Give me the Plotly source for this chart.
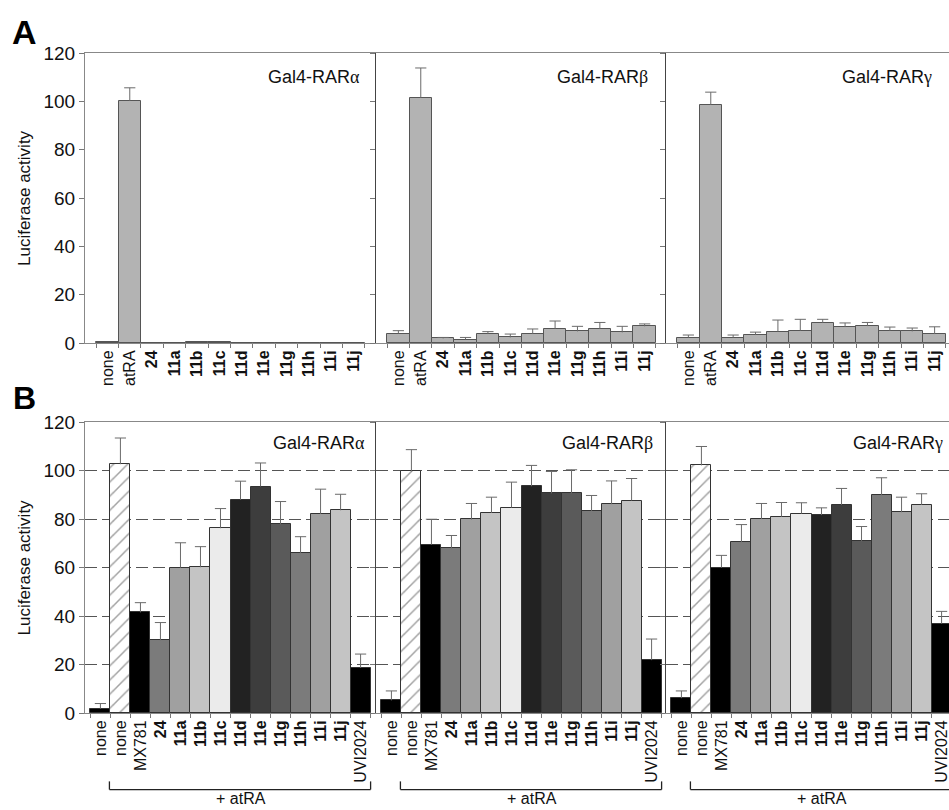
import plotly.graph_objects as go

# ---------------- data ----------------
a_labels = ["none", "atRA", "24", "11a", "11b", "11c", "11d", "11e", "11g", "11h", "11i", "11j"]
a_alpha = [0.3, 100.2, 0.2, 0.1, 0.3, 0.4, 0.2, 0.2, 0.2, 0.2, 0.2, 0.2]
a_alpha_err = [0, 5.4, 0, 0, 0, 0, 0, 0, 0, 0, 0, 0]
a_beta = [3.9, 101.4, 1.9, 1.4, 3.7, 2.3, 3.7, 5.9, 4.8, 5.8, 4.4, 6.9]
a_beta_err = [1.2, 12.4, 0.4, 0.9, 1.0, 1.4, 2.1, 3.2, 2.1, 2.7, 2.5, 1.0]
a_gamma = [2.2, 98.5, 2.2, 3.3, 4.7, 5.1, 8.3, 6.6, 7.0, 5.0, 4.8, 3.7]
a_gamma_err = [1.1, 5.3, 1.1, 1.2, 4.8, 4.7, 1.5, 1.7, 1.5, 1.6, 1.4, 3.0]

b_labels = ["none", "none", "MX781", "24", "11a", "11b", "11c", "11d", "11e",
            "11g", "11h", "11i", "11j", "UVI2024"]
b_alpha = [1.8, 102.6, 41.5, 30.0, 59.9, 60.1, 76.2, 87.9, 93.4, 77.8, 65.9, 82.1, 83.6, 18.6]
b_alpha_err = [2.1, 10.8, 4.0, 7.3, 10.3, 8.5, 8.1, 7.7, 9.7, 9.4, 6.8, 10.2, 6.6, 5.7]
b_beta = [5.2, 99.6, 69.4, 67.9, 79.8, 82.5, 84.7, 93.5, 90.6, 90.6, 83.3, 86.1, 87.6, 21.8]
b_beta_err = [3.9, 9.0, 10.5, 5.3, 6.6, 6.5, 10.5, 8.6, 9.0, 9.7, 6.4, 9.6, 9.1, 8.7]
b_gamma = [6.1, 102.1, 59.9, 70.5, 80.0, 80.9, 82.2, 81.6, 85.8, 70.8, 89.8, 82.8, 85.8, 36.8]
b_gamma_err = [3.0, 7.8, 5.1, 7.2, 6.4, 5.9, 4.5, 3.0, 6.8, 6.1, 7.2, 6.2, 4.6, 5.1]

b_atra_first = 1      # first category treated with atRA
b_atra_last = 13      # last category treated with atRA
receptors = ["α", "β", "γ"]
y_ticks = [0, 20, 40, 60, 80, 100, 120]

# ---------------- style ----------------
FONT = "Arial, Liberation Sans, sans-serif"
W, H = 949, 810
ML, MT, MB = 85, 53, 97
col_edges = [85, 376, 666, 949]
row_a = (53, 343)
row_b = (422, 713)
A_FILL = "#b3b3b3"
A_LINE = "#555555"
B_LINE = "#333333"
B_FILLS = ["#000000", "#ffffff", "#000000", "#7b7b7b", "#a0a0a0", "#c4c4c4", "#ebebeb",
           "#222222", "#3d3d3d", "#5a5a5a", "#7b7b7b", "#a0a0a0", "#c4c4c4", "#000000"]
B_PATTERNS = ["", "/", "", "", "", "", "", "", "", "", "", "", "", ""]
ERR_COL = "#6a6a6a"
PLAIN = {"none", "atRA", "MX781", "UVI2024"}

PW = W - ML
PH = H - MT - MB


def px_x(p):
    return (p - ML) / PW


def px_y(p):
    return (H - MB - p) / PH


def fmt(lbl):
    return lbl if lbl in PLAIN else f"<b>{lbl}</b>"


fig = go.Figure()

rows = [
    dict(labels=a_labels, series=[(a_alpha, a_alpha_err), (a_beta, a_beta_err), (a_gamma, a_gamma_err)],
         ypx=row_a, pad=1.0, fills=[A_FILL] * len(a_labels), pats=None, line=A_LINE, grid=False,
         title_pos=[(362, 77), (650, 77), (934, 77)]),
    dict(labels=b_labels, series=[(b_alpha, b_alpha_err), (b_beta, b_beta_err), (b_gamma, b_gamma_err)],
         ypx=row_b, pad=0.77, fills=B_FILLS, pats=B_PATTERNS, line=B_LINE, grid=True,
         title_pos=[(367, 443), (655, 443), (945, 443)]),
]

layout_axes = {}
annotations = []
shapes = []
ax_i = 0
for r, row in enumerate(rows):
    labels = row["labels"]
    n = len(labels)
    cats = [str(i) for i in range(n)]
    first_w = col_edges[1] - col_edges[0]
    cw = first_w / (n - 1 + 2 * row["pad"])
    for c in range(3):
        ax_i += 1
        xname = "x" if ax_i == 1 else f"x{ax_i}"
        yname = "y" if ax_i == 1 else f"y{ax_i}"
        vals, errs = row["series"][c]
        fig.add_trace(go.Bar(
            x=cats, y=vals, xaxis=xname, yaxis=yname,
            marker=dict(color=row["fills"], line=dict(color=row["line"], width=1),
                        pattern=dict(shape=row["pats"], fgcolor="#333333", bgcolor="#ffffff",
                                     size=10, solidity=0.15) if row["pats"] else None),
            error_y=dict(type="data", array=errs, arrayminus=[0] * n, symmetric=False,
                         color=ERR_COL, thickness=1, width=0),
            hoverinfo="skip", showlegend=False,
        ))
        caps = [v + e if e > 0 else None for v, e in zip(vals, errs)]
        fig.add_trace(go.Scatter(
            x=cats, y=caps, xaxis=xname, yaxis=yname, mode="markers",
            marker=dict(symbol="line-ew", size=8, color=ERR_COL, line=dict(color=ERR_COL, width=1)),
            hoverinfo="skip", showlegend=False, cliponaxis=False,
        ))
        x0p, x1p = col_edges[c], col_edges[c + 1]
        lo = -row["pad"]
        hi = lo + (x1p - x0p) / cw
        xkey = "xaxis" if ax_i == 1 else f"xaxis{ax_i}"
        ykey = "yaxis" if ax_i == 1 else f"yaxis{ax_i}"
        layout_axes[xkey] = dict(
            domain=[px_x(x0p), px_x(x1p)], anchor=yname, type="category",
            range=[lo, hi], tickmode="array", tickvals=cats,
            ticktext=[fmt(l) for l in labels], tickangle=-90, tickson="boundaries",
            ticks="outside", ticklen=4, tickcolor="#777777", tickwidth=1,
            showline=True, linecolor="#888888", linewidth=1, mirror=True,
            showgrid=False, zeroline=False,
            tickfont=dict(family=FONT, size=16, color="#111111"),
        )
        layout_axes[ykey] = dict(
            domain=[px_y(row["ypx"][1]), px_y(row["ypx"][0])], anchor=xname,
            range=[0, 120], tickmode="array", tickvals=y_ticks,
            ticks="outside", ticklen=5, tickcolor="#777777", tickwidth=1,
            showline=True, linecolor="#888888" if c == 0 else "#444444", linewidth=1,
            showticklabels=(c == 0), zeroline=False,
            showgrid=row["grid"], gridcolor="#555555", gridwidth=1, griddash="12px,5px",
            tickfont=dict(family=FONT, size=19, color="#111111"),
        )
        # panel title
        tx, ty = row["title_pos"][c]
        annotations.append(dict(
            xref="paper", yref="paper", x=px_x(tx), y=px_y(ty), xanchor="right", yanchor="middle",
            showarrow=False,
            text=f"Gal4-RAR<span style='font-family:Liberation Serif'>{receptors[c]}</span>",
            font=dict(family=FONT, size=18, color="#111111"),
        ))
        if r == 1:
            yd = f"{yname} domain"
            left = b_atra_first - 0.55
            right = b_atra_last + 0.5
            ytop, ybot = -0.235, -0.263
            for (xa0, ya0, xa1, ya1) in [(left, ytop, left, ybot), (left, ybot, right, ybot),
                                         (right, ybot, right, ytop)]:
                shapes.append(dict(type="line", xref=xname, yref=yd, x0=xa0, y0=ya0, x1=xa1, y1=ya1,
                                   line=dict(color="#222222", width=1.3)))
            annotations.append(dict(
                xref=xname, yref=yd, x=(b_atra_first + b_atra_last) / 2, y=-0.331,
                xanchor="center", yanchor="bottom", showarrow=False, text="+ atRA",
                font=dict(family=FONT, size=16, color="#111111"),
            ))
    # y-axis title
    annotations.append(dict(
        xref="paper", yref="paper", x=px_x(24), y=px_y((row["ypx"][0] + row["ypx"][1]) / 2),
        xanchor="center", yanchor="middle", textangle=-90, showarrow=False,
        text="Luciferase activity", font=dict(family=FONT, size=17, color="#111111"),
    ))

# panel letters
annotations.append(dict(xref="paper", yref="paper", x=px_x(10), y=px_y(32), xanchor="left",
                        yanchor="middle", showarrow=False, text="<b>A</b>",
                        font=dict(family=FONT, size=34, color="#000000")))
annotations.append(dict(xref="paper", yref="paper", x=px_x(11), y=px_y(398), xanchor="left",
                        yanchor="middle", showarrow=False, text="<b>B</b>",
                        font=dict(family=FONT, size=32, color="#000000")))

fig.update_layout(
    width=W, height=H, margin=dict(l=ML, r=0, t=MT, b=MB, pad=0),
    paper_bgcolor="#ffffff", plot_bgcolor="#ffffff",
    bargap=0, showlegend=False, font=dict(family=FONT, color="#111111"),
    annotations=annotations, shapes=shapes, **layout_axes,
)

fig.write_html("out.html")
